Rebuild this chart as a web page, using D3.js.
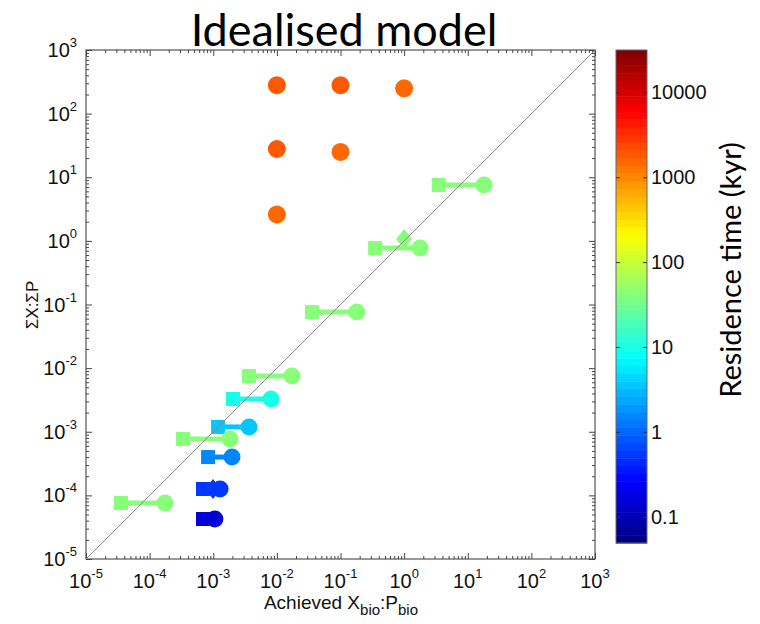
<!DOCTYPE html>
<html>
<head>
<meta charset="utf-8">
<script src="https://cdn.jsdelivr.net/npm/d3@7"></script>
<style>
  html, body { margin: 0; padding: 0; background: #fff; }
  svg { display: block; }
  .tick-lab { font-family: "Liberation Sans", Arial, sans-serif; fill: #111; }
</style>
</head>
<body>
<svg id="chart" width="760" height="624"></svg>
<script>
// Connected pairs: square = start, circle = achieved ratio
const pairY    = [7.55, 0.77, 0.076, 0.0075, 0.00327, 0.00119, 7.7e-4, 4.0e-4, 1.26e-4, 4.25e-5, 7.6e-5];
const squareX  = [3.5, 0.35, 0.0356, 0.00365, 0.00204, 0.00119, 3.35e-4, 8.3e-4, 6.9e-4, 6.9e-4, 3.55e-5];
const circleX  = [18, 1.78, 0.18, 0.0173, 0.0081, 0.00365, 0.00183, 0.00197, 0.00128, 0.00106, 1.75e-4];
const pairTime = [46, 46, 46, 46, 11, 3.5, 46, 1.4, 0.49, 0.16, 46];

// Diamond markers
const diamondX    = [1.0, 9.9e-4];
const diamondY    = [1.07, 1.26e-4];
const diamondTime = [46, 0.49];

// Unconnected runs (long residence time)
const soloX    = [0.01, 0.1, 1, 0.01, 0.1, 0.01];
const soloY    = [280, 280, 250, 27.8, 25, 2.6];
const soloTime = [1800, 1800, 1500, 1800, 1500, 1500];

// Axis ticks
const decadeExps   = [-5, -4, -3, -2, -1, 0, 1, 2, 3];
const cbarTicks    = [0.1, 1, 10, 100, 1000, 10000];
const cbarTickText = ["0.1", "1", "10", "100", "1000", "10000"];
const cbarDomain   = [-1.31, 4.5]; // log10(kyr)

const svg = d3.select("#chart");

const L = 86, R = 595, T = 50, B = 559;
const x = d3.scaleLog().domain([1e-5, 1e3]).range([L, R]);
const y = d3.scaleLog().domain([1e-5, 1e3]).range([B, T]);

// MATLAB-style jet colormap with 64 discrete levels
function jet(t) {
  const n = 64;
  t = Math.min(n - 1, Math.max(0, Math.floor(t * n)));
  const v = (t + 0.5) / n;
  const cl = a => Math.max(0, Math.min(1, a));
  const r = cl(1.5 - Math.abs(4 * v - 3));
  const g = cl(1.5 - Math.abs(4 * v - 2));
  const b = cl(1.5 - Math.abs(4 * v - 1));
  return d3.rgb(r * 255, g * 255, b * 255).toString();
}
const tScale = d3.scaleLinear().domain(cbarDomain).range([0, 1]).clamp(true);
const color = kyr => jet(tScale(Math.log10(kyr)));

// Title
svg.append("text")
  .attr("x", 344).attr("y", 46)
  .attr("text-anchor", "middle")
  .style("font-family", "Lato, 'Open Sans', sans-serif")
  .style("font-size", "45px")
  .attr("fill", "#000")
  .text("Idealised model");

// Plot frame
svg.append("rect")
  .attr("x", L).attr("y", T).attr("width", R - L).attr("height", B - T)
  .attr("fill", "#fff").attr("stroke", "#333").attr("stroke-width", 1);

// Minor and major ticks on all four sides, pointing inward
const allTicks = x.ticks();
const majors = decadeExps.map(e => Math.pow(10, e));
const minors = allTicks.filter(v => !majors.some(m => Math.abs(v / m - 1) < 1e-9));

function addAxis(gen, transform, values, size) {
  const g = svg.append("g").attr("transform", transform)
    .call(gen.tickValues(values).tickSize(size).tickFormat(""));
  g.select(".domain").remove();
  g.selectAll("line").attr("stroke", "#444").attr("stroke-width", 1);
}
addAxis(d3.axisBottom(x), `translate(0,${B})`, minors, -3);
addAxis(d3.axisBottom(x), `translate(0,${B})`, majors, -6);
addAxis(d3.axisTop(x), `translate(0,${T})`, minors, -3);
addAxis(d3.axisTop(x), `translate(0,${T})`, majors, -6);
addAxis(d3.axisLeft(y), `translate(${L},0)`, minors, -3);
addAxis(d3.axisLeft(y), `translate(${L},0)`, majors, -6);
addAxis(d3.axisRight(y), `translate(${R},0)`, minors, -3);
addAxis(d3.axisRight(y), `translate(${R},0)`, majors, -6);

// Tick labels: 10 with superscript exponent
decadeExps.forEach(e => {
  const v = Math.pow(10, e);
  const tx = svg.append("text").attr("class", "tick-lab")
    .attr("x", x(v)).attr("y", 588).attr("text-anchor", "middle")
    .style("font-size", "20px");
  tx.append("tspan").text("10");
  tx.append("tspan").attr("dy", -10).style("font-size", "13px").text(e);

  const ty = svg.append("text").attr("class", "tick-lab")
    .attr("x", 77).attr("y", y(v) + 7).attr("text-anchor", "end")
    .style("font-size", "20px");
  ty.append("tspan").text("10");
  ty.append("tspan").attr("dy", -10).style("font-size", "13px").text(e);
});

// Axis labels
const xl = svg.append("text").attr("class", "tick-lab")
  .attr("x", 341).attr("y", 609).attr("text-anchor", "middle")
  .style("font-size", "19px");
xl.append("tspan").text("Achieved X");
xl.append("tspan").attr("dy", 6).style("font-size", "15px").text("bio");
xl.append("tspan").attr("dy", -6).text(":P");
xl.append("tspan").attr("dy", 6).style("font-size", "15px").text("bio");

svg.append("text").attr("class", "tick-lab")
  .attr("transform", "translate(38,305) rotate(-90)")
  .attr("text-anchor", "middle")
  .style("font-size", "17px")
  .text("\u03A3X:\u03A3P");

// Data marks
const plot = svg.append("g");

const pairs = pairY.map((v, i) => ({ y: v, sx: squareX[i], cx: circleX[i], t: pairTime[i] }));

plot.selectAll(".conn").data(pairs).join("line")
  .attr("x1", d => x(d.sx)).attr("x2", d => x(d.cx))
  .attr("y1", d => y(d.y)).attr("y2", d => y(d.y))
  .attr("stroke", d => color(d.t)).attr("stroke-width", 5);

const sq = 14;
plot.selectAll(".sq").data(pairs).join("rect")
  .attr("x", d => x(d.sx) - sq / 2).attr("y", d => y(d.y) - sq / 2)
  .attr("width", sq).attr("height", sq)
  .attr("fill", d => color(d.t));

plot.selectAll(".circ").data(pairs).join("circle")
  .attr("cx", d => x(d.cx)).attr("cy", d => y(d.y)).attr("r", 8.5)
  .attr("fill", d => color(d.t));

const diamonds = diamondX.map((v, i) => ({ x: v, y: diamondY[i], t: diamondTime[i] }));
plot.selectAll(".dia").data(diamonds).join("path")
  .attr("d", d => {
    const cx = x(d.x), cy = y(d.y);
    return `M${cx},${cy - 10}L${cx + 8},${cy}L${cx},${cy + 10}L${cx - 8},${cy}Z`;
  })
  .attr("fill", d => color(d.t));

const solos = soloX.map((v, i) => ({ x: v, y: soloY[i], t: soloTime[i] }));
plot.selectAll(".solo").data(solos).join("circle")
  .attr("cx", d => x(d.x)).attr("cy", d => y(d.y)).attr("r", 9)
  .attr("fill", d => color(d.t));

// 1:1 line
svg.append("line")
  .attr("x1", x(1e-5)).attr("y1", y(1e-5))
  .attr("x2", x(1e3)).attr("y2", y(1e3))
  .attr("stroke", "#8a8a8a").attr("stroke-width", 1);

// Colour bar
const cbX = 616, cbW = 31, cbT = 50, cbB = 543;
const cy = d3.scaleLinear().domain(cbarDomain).range([cbB, cbT]);
const levels = d3.range(64);
const cb = svg.append("g");
cb.selectAll("rect").data(levels).join("rect")
  .attr("x", cbX)
  .attr("y", i => cy(cbarDomain[0] + (i + 1) / 64 * (cbarDomain[1] - cbarDomain[0])))
  .attr("width", cbW)
  .attr("height", (cbB - cbT) / 64 + 0.5)
  .attr("fill", i => jet((i + 0.5) / 64));
cb.append("rect").attr("x", cbX).attr("y", cbT).attr("width", cbW).attr("height", cbB - cbT)
  .attr("fill", "none").attr("stroke", "#666").attr("stroke-width", 1);

const cbLog = d3.scaleLog().domain(cbarDomain.map(v => Math.pow(10, v))).range([cbB, cbT]);
const cbAxL = svg.append("g").attr("transform", `translate(${cbX},0)`)
  .call(d3.axisLeft(cbLog).tickValues(cbarTicks).tickSize(-4).tickFormat(""));
cbAxL.select(".domain").remove();
const cbAxR = svg.append("g").attr("transform", `translate(${cbX + cbW},0)`)
  .call(d3.axisRight(cbLog).tickValues(cbarTicks).tickSize(-4).tickFormat(""));
cbAxR.select(".domain").remove();
cbAxL.selectAll("line").attr("stroke", "#333");
cbAxR.selectAll("line").attr("stroke", "#333");

cbarTicks.forEach((v, i) => {
  svg.append("text").attr("class", "tick-lab")
    .attr("x", 651).attr("y", cbLog(v) + 7)
    .style("font-size", "20px")
    .text(cbarTickText[i]);
});

svg.append("text")
  .attr("transform", "translate(741,270) rotate(-90)")
  .attr("text-anchor", "middle")
  .style("font-family", "Lato, 'Open Sans', sans-serif")
  .style("font-size", "29px")
  .attr("fill", "#000")
  .text("Residence time (kyr)");
</script>
</body>
</html>
